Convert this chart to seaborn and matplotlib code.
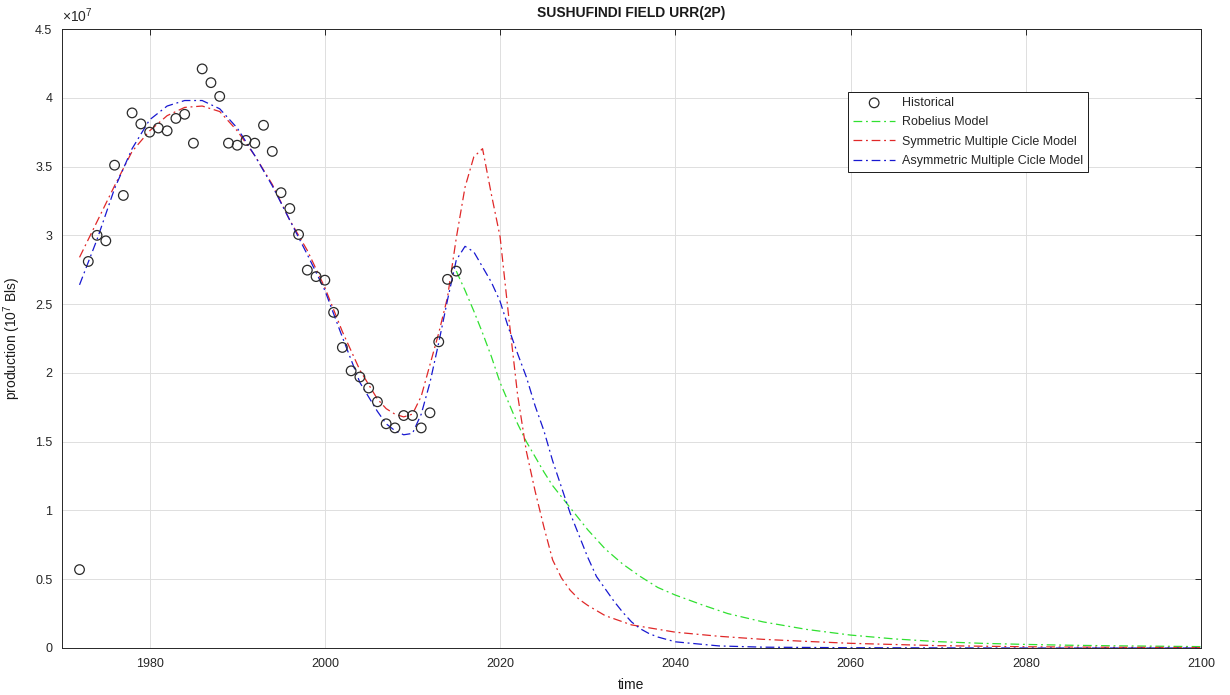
#!/usr/bin/env python3

##  Sushufindi field production, historical vs. fitted models

import matplotlib
matplotlib.use('Agg')
import numpy as np
import pandas as pd
import seaborn as sns
import matplotlib.pyplot as plt

## historical production (10^7 Bls)
hist_years = list(range(1972, 2016))
hist_prod  = [0.57, 2.81, 3.00, 2.96, 3.51, 3.29, 3.89, 3.81, 3.75, 3.78,
              3.76, 3.85, 3.88, 3.67, 4.21, 4.11, 4.01, 3.67, 3.655, 3.69,
              3.67, 3.80, 3.61, 3.31, 3.195, 3.006, 2.747, 2.70, 2.674, 2.44,
              2.185, 2.015, 1.97, 1.89, 1.79, 1.63, 1.60, 1.69, 1.69, 1.60,
              1.71, 2.226, 2.68, 2.74]

## Robelius model
rob_years = [2015, 2016, 2017, 2018, 2019, 2020, 2021, 2022, 2023, 2024, 2025,
             2026, 2027, 2028, 2029, 2030, 2032, 2034, 2036, 2038, 2040, 2043,
             2046, 2050, 2055, 2060, 2065, 2070, 2075, 2080, 2085, 2090, 2095, 2100]
rob_prod  = [2.74, 2.60, 2.45, 2.29, 2.12, 1.93, 1.78, 1.63, 1.50, 1.39, 1.28,
             1.18, 1.10, 1.02, 0.94, 0.86, 0.72, 0.61, 0.52, 0.44, 0.385, 0.315,
             0.25, 0.19, 0.135, 0.094, 0.066, 0.046, 0.034, 0.026, 0.020, 0.016,
             0.013, 0.010]

## Symmetric multiple cycle model
sym_years = [1972, 1974, 1976, 1978, 1980, 1982, 1984, 1986, 1988, 1990, 1992,
             1994, 1996, 1998, 2000, 2002, 2004, 2006, 2007, 2008, 2009, 2010,
             2011, 2012, 2013, 2014, 2015, 2016, 2017, 2018, 2019, 2020, 2021,
             2022, 2023, 2024, 2025, 2026, 2027, 2028, 2029, 2030, 2032, 2035,
             2040, 2045, 2050, 2055, 2060, 2070, 2080, 2090, 2100]
sym_prod  = [2.84, 3.10, 3.36, 3.61, 3.76, 3.87, 3.93, 3.94, 3.90, 3.76, 3.58,
             3.37, 3.11, 2.89, 2.62, 2.30, 2.02, 1.81, 1.74, 1.70, 1.68, 1.70,
             1.83, 2.06, 2.29, 2.55, 2.98, 3.35, 3.57, 3.63, 3.30, 2.99, 2.40,
             1.84, 1.43, 1.14, 0.88, 0.64, 0.51, 0.42, 0.355, 0.31, 0.235, 0.168,
             0.115, 0.085, 0.063, 0.048, 0.034, 0.017, 0.009, 0.005, 0.003]

## Asymmetric multiple cycle model
asym_years = [1972, 1974, 1976, 1978, 1980, 1982, 1984, 1986, 1988, 1990, 1992,
              1994, 1996, 1998, 2000, 2002, 2004, 2006, 2007, 2008, 2009, 2010,
              2011, 2012, 2013, 2014, 2015, 2016, 2017, 2018, 2019, 2020, 2021,
              2022, 2023, 2024, 2025, 2026, 2027, 2028, 2029, 2030, 2031, 2032,
              2033, 2034, 2035, 2036, 2037, 2038, 2040, 2045, 2050, 2060, 2070,
              2080, 2090, 2100]
asym_prod  = [2.64, 2.97, 3.34, 3.63, 3.84, 3.94, 3.98, 3.98, 3.92, 3.78, 3.58,
              3.36, 3.11, 2.86, 2.60, 2.26, 1.93, 1.72, 1.63, 1.58, 1.55, 1.56,
              1.70, 1.93, 2.22, 2.53, 2.82, 2.92, 2.88, 2.77, 2.66, 2.52, 2.32,
              2.14, 1.97, 1.76, 1.58, 1.36, 1.17, 0.98, 0.82, 0.66, 0.52, 0.43,
              0.34, 0.26, 0.19, 0.14, 0.105, 0.08, 0.045, 0.015, 0.006, 0.002,
              0.001, 0.0, 0.0, 0.0]


def main():
  sns.set_style('white')
  plt.rcParams['font.family'] = ['Liberation Sans', 'DejaVu Sans']
  plt.rcParams['mathtext.fontset'] = 'custom'
  plt.rcParams['mathtext.rm'] = 'Liberation Sans'
  plt.rcParams['mathtext.it'] = 'Liberation Sans:italic'
  plt.rcParams['mathtext.bf'] = 'Liberation Sans:bold'

  fig = plt.figure(figsize=(12.3, 6.95), dpi=100)
  ax = fig.add_axes([62/1230, 47/695, 1139/1230, 619/695])

  dashdot = (0, (7, 3, 1.5, 3))

  sns.scatterplot(x=hist_years, y=hist_prod, ax=ax, marker='o', s=48,
                  facecolor='none', edgecolor='#2a2a2a', linewidth=0.9,
                  label='Historical', zorder=3)
  sns.lineplot(x=rob_years, y=rob_prod, ax=ax, color='#30e030', lw=0.9,
               linestyle=dashdot, label='Robelius Model', sort=False)
  sns.lineplot(x=sym_years, y=sym_prod, ax=ax, color='#e02828', lw=0.9,
               linestyle=dashdot, label='Symmetric Multiple Cicle Model', sort=False)
  sns.lineplot(x=asym_years, y=asym_prod, ax=ax, color='#1818d0', lw=0.9,
               linestyle=dashdot, label='Asymmetric Multiple Cicle Model', sort=False)

  ax.set_xlim(1970, 2100)
  ax.set_ylim(0, 4.5)
  ax.set_xticks(np.arange(1980, 2101, 20))
  ax.set_yticks(np.arange(0, 4.51, 0.5))
  ax.yaxis.set_major_formatter(plt.FuncFormatter(lambda v, p: '{:g}'.format(v)))
  ax.grid(True, color='#dedede', lw=0.7)
  ax.set_axisbelow(True)
  for s in ax.spines.values():
    s.set_color('#262626')
    s.set_linewidth(0.7)
  ax.tick_params(direction='in', top=True, right=True, length=4, width=0.7,
                 labelsize=9, colors='#262626', pad=7)

  ax.text(0, 1.006, r'$\times 10^{7}$', transform=ax.transAxes,
          ha='left', va='bottom', fontsize=10, color='#262626')
  ax.set_title('SUSHUFINDI FIELD URR(2P)', fontsize=10, fontweight='bold',
               color='#1a1a1a', pad=9)
  ax.set_xlabel('time', fontsize=10, color='#1a1a1a', labelpad=6)
  ax.set_ylabel('production (10$^7$ Bls)', fontsize=10, color='#1a1a1a', labelpad=9)

  leg = ax.legend(loc='upper left', bbox_to_anchor=(0.690, 0.898), fontsize=9,
                  frameon=True, fancybox=False, framealpha=1, edgecolor='#1a1a1a',
                  borderaxespad=0, handlelength=3.4, handletextpad=0.5,
                  labelspacing=0.58, borderpad=0.4, scatterpoints=1)
  leg.get_frame().set_linewidth(0.7)

  plt.savefig('out.png', dpi=100)


if __name__ == '__main__':
  main()
